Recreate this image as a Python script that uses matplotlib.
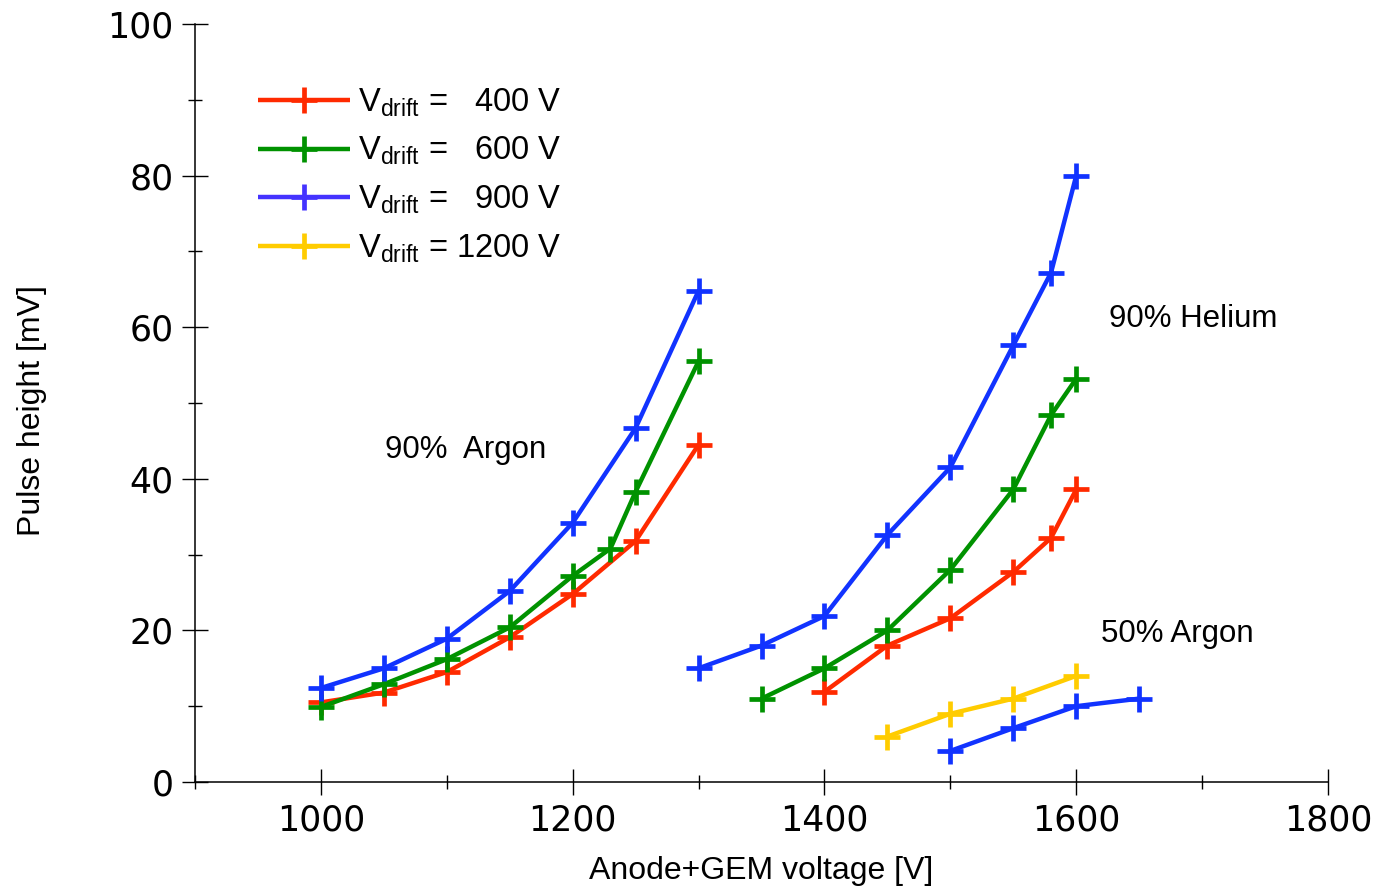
import matplotlib
matplotlib.use('Agg')
import matplotlib.pyplot as plt
from matplotlib.lines import Line2D
from matplotlib.ticker import MultipleLocator

# --- data ---
ar_v400_x = [1000, 1050, 1100, 1150, 1200, 1250, 1300]
ar_v400_y = [10.5, 11.8, 14.5, 19.1, 24.8, 31.8, 44.5]
ar_v600_x = [1000, 1050, 1100, 1150, 1200, 1230, 1250, 1300]
ar_v600_y = [9.9, 12.9, 16.2, 20.4, 27.2, 30.8, 38.3, 55.5]
ar_v900_x = [1000, 1050, 1100, 1150, 1200, 1250, 1300]
ar_v900_y = [12.4, 15.0, 18.9, 25.2, 34.2, 46.7, 64.8]

he_v400_x = [1400, 1450, 1500, 1550, 1580, 1600]
he_v400_y = [11.9, 18.0, 21.6, 27.7, 32.2, 38.6]
he_v600_x = [1350, 1400, 1450, 1500, 1550, 1580, 1600]
he_v600_y = [11.0, 15.0, 20.0, 28.0, 38.6, 48.4, 53.2]
he_v900_x = [1300, 1350, 1400, 1450, 1500, 1550, 1580, 1600]
he_v900_y = [15.0, 18.0, 21.9, 32.6, 41.5, 57.6, 67.2, 80.0]

ar50_v1200_x = [1450, 1500, 1550, 1600]
ar50_v1200_y = [6.0, 9.0, 11.0, 14.0]
ar50_v900_x = [1500, 1550, 1600, 1650]
ar50_v900_y = [4.1, 7.1, 10.0, 11.0]

legend_labels = [r'V$_{\mathrm{drift}}$ =   400 V', r'V$_{\mathrm{drift}}$ =   600 V',
                 r'V$_{\mathrm{drift}}$ =   900 V', r'V$_{\mathrm{drift}}$ = 1200 V']

RED = '#ff2a00'
GREEN = '#009200'
BLUE = '#1133ff'
BLUE_LEG = '#4433ff'
YELLOW = '#ffcc00'

plt.rcParams['mathtext.fontset'] = 'custom'
plt.rcParams['mathtext.rm'] = 'Liberation Sans'
plt.rcParams['mathtext.it'] = 'Liberation Sans:italic'

fig = plt.figure(figsize=(13.8, 8.9), dpi=100)
ax = fig.add_axes([195 / 1380, 108 / 890, 1133 / 1380, 758 / 890])

style = dict(lw=3.2, marker='+', ms=19, mew=3.4, solid_capstyle='butt')
series = [
    (ar_v400_x, ar_v400_y, RED), (ar_v600_x, ar_v600_y, GREEN), (ar_v900_x, ar_v900_y, BLUE),
    (he_v400_x, he_v400_y, RED), (he_v600_x, he_v600_y, GREEN), (he_v900_x, he_v900_y, BLUE),
    (ar50_v1200_x, ar50_v1200_y, YELLOW), (ar50_v900_x, ar50_v900_y, BLUE),
]
for xs, ys, c in series:
    ax.plot(xs, ys, color=c, clip_on=False, **style)

ax.set_xlim(900, 1800)
ax.set_ylim(0, 100)
ax.xaxis.set_major_locator(MultipleLocator(200))
ax.xaxis.set_minor_locator(MultipleLocator(100))
ax.yaxis.set_major_locator(MultipleLocator(20))
ax.yaxis.set_minor_locator(MultipleLocator(10))
for s in ['top', 'right']:
    ax.spines[s].set_visible(False)
for s in ['left', 'bottom']:
    ax.spines[s].set_linewidth(1.1)
ax.tick_params(which='major', direction='inout', length=19, width=1.0, pad=6, labelsize=25)
ax.tick_params(which='minor', direction='inout', length=10, width=1.0)
for lab in ax.get_xticklabels() + ax.get_yticklabels():
    lab.set_family('DejaVu Sans')

ax.set_xlabel('Anode+GEM voltage [V]', fontsize=23, family='Liberation Sans')
ax.set_ylabel('Pulse height [mV]', fontsize=23, family='Liberation Sans')
ax.xaxis.set_label_coords(0.5, -0.097)
ax.yaxis.set_label_coords(-0.131, 0.49)

txt = dict(fontsize=22.5, family='Liberation Sans', va='center')
ax.text(1051, 43.8, '90%  Argon', **txt)
ax.text(1626, 61.1, '90% Helium', **txt)
ax.text(1620, 19.5, '50% Argon', **txt)

handles = [Line2D([], [], color=c, **style) for c in [RED, GREEN, BLUE_LEG, YELLOW]]
ax.legend(handles, legend_labels, loc='upper left', bbox_to_anchor=(0.0445, 0.935),
          frameon=False, prop={'family': 'Liberation Sans', 'size': 23.5},
          handlelength=2.8, handletextpad=0.25, labelspacing=0.5, borderaxespad=0)

fig.savefig('out.png', dpi=100)
